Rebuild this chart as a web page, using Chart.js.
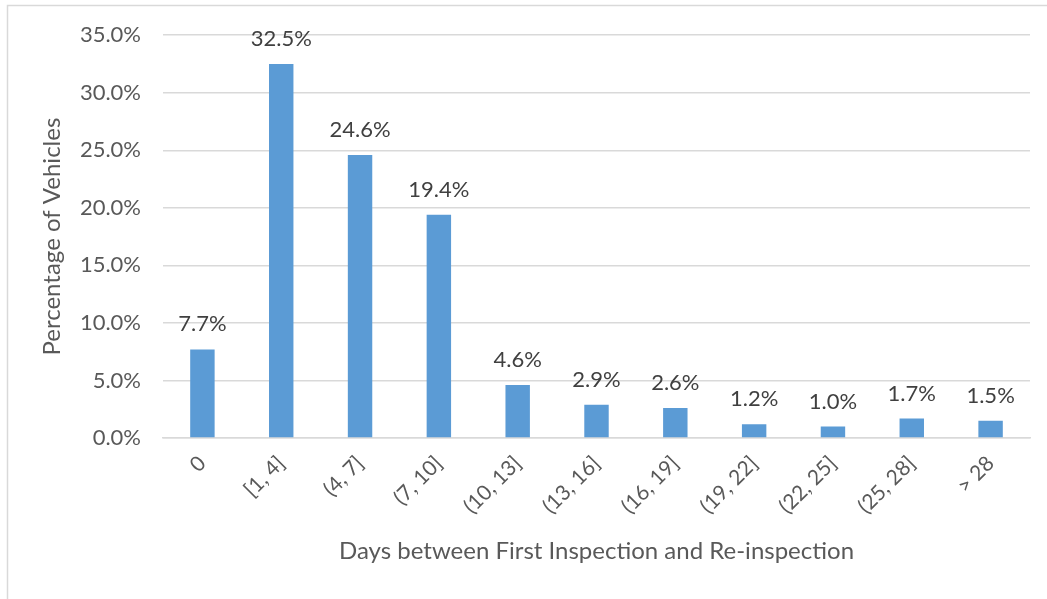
<!DOCTYPE html>
<html><head><meta charset="utf-8">
<script src="https://cdn.jsdelivr.net/npm/chart.js@4/dist/chart.umd.min.js"></script>
<style>html,body{margin:0;padding:0;background:#fff;}#wrap{width:1047px;height:599px;position:relative;}</style>
</head><body><div id="wrap"><canvas id="c" width="1047" height="599"></canvas></div>
<script>
const categories = ["0", "[1, 4]", "(4, 7]", "(7, 10]", "(10, 13]", "(13, 16]", "(16, 19]", "(19, 22]", "(22, 25]", "(25, 28]", "> 28"];
const percentages = [7.7, 32.5, 24.6, 19.4, 4.6, 2.9, 2.6, 1.2, 1.0, 1.7, 1.5];
const yTicks = [0, 5, 10, 15, 20, 25, 30, 35];
const FONT = "Lato, 'Open Sans', sans-serif";

const frame = {
  id: 'frame',
  beforeDraw(chart) {
    const ctx = chart.ctx;
    ctx.save();
    ctx.fillStyle = '#fff';
    ctx.fillRect(0, 0, chart.width, chart.height);
    ctx.strokeStyle = '#d9d9d9';
    ctx.lineWidth = 1.5;
    ctx.strokeRect(7.5, 5.5, 1060, 620);
    ctx.restore();
  }
};
const labels = {
  id: 'valueLabels',
  afterDatasetsDraw(chart) {
    const ctx = chart.ctx;
    const meta = chart.getDatasetMeta(0);
    ctx.save();
    ctx.font = "22px " + FONT;
    ctx.fillStyle = '#404040';
    ctx.textAlign = 'center';
    ctx.textBaseline = 'middle';
    meta.data.forEach((bar, i) => {
      ctx.fillText(percentages[i].toFixed(1) + '%', bar.x, bar.y - 25);
    });
    ctx.restore();
  }
};

new Chart(document.getElementById('c'), {
  type: 'bar',
  data: { labels: categories, datasets: [{ data: percentages, backgroundColor: '#5b9bd5', barPercentage: 0.31, categoryPercentage: 1 }] },
  options: {
    responsive: false, animation: false, devicePixelRatio: 1,
    layout: { padding: { left: 8, right: 17, top: 34, bottom: 0 } },
    plugins: { legend: { display: false }, tooltip: { enabled: false } },
    scales: {
      x: {
        grid: { display: false, drawTicks: false },
        border: { display: true, color: '#d9d9d9', width: 1.5 },
        ticks: { color: '#595959', font: { size: 21, family: FONT }, maxRotation: 45, minRotation: 45, padding: 13 },
        title: { display: true, text: 'Days between First Inspection and Re-inspection', color: '#595959', font: { size: 24, family: FONT }, padding: { top: 8, bottom: 33 } },
        afterFit(s) { s.height = 161; }
      },
      y: {
        min: 0, max: 35,
        afterBuildTicks(s) { s.ticks = yTicks.map(v => ({ value: v })); },
        grid: { color: '#d9d9d9', lineWidth: 1.5, drawTicks: false },
        border: { display: false },
        ticks: { color: '#595959', font: { size: 22, family: FONT }, padding: 22, callback: v => v.toFixed(1) + '%' },
        title: { display: true, text: 'Percentage of Vehicles', color: '#595959', font: { size: 24, family: FONT }, padding: { top: 30, bottom: 0 } },
        afterFit(s) { s.width = 155; }
      }
    }
  },
  plugins: [frame, labels]
});
</script></body></html>
